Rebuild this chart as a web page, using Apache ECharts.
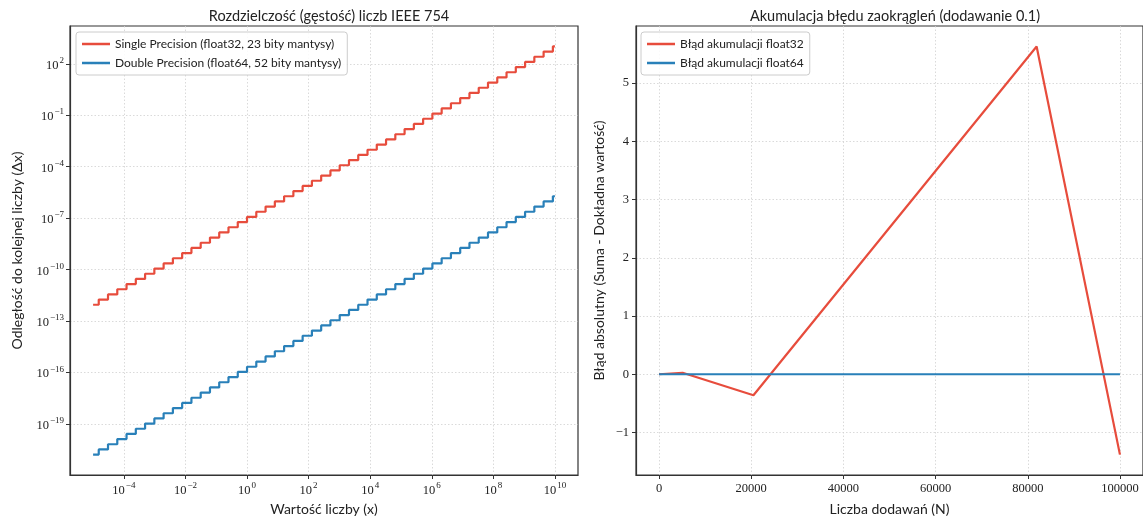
<!DOCTYPE html>
<html>
<head>
<meta charset="utf-8">
<script src="https://cdn.jsdelivr.net/npm/echarts@6/dist/echarts.min.js"></script>
<style>html,body{margin:0;padding:0;background:#fff}#c{width:1143px;height:521px}</style>
</head>
<body>
<div id="c"></div>
<script>
// ---- Left chart data (log2 exponents read from the steps) ----
const xRange = [1e-5, 1e10];
const binadeExp = [-17,-16,-15,-14,-13,-12,-11,-10,-9,-8,-7,-6,-5,-4,-3,-2,-1,0,1,2,3,4,5,6,7,8,9,10,11,12,13,14,15,16,17,18,19,20,21,22,23,24,25,26,27,28,29,30,31,32,33];
const f32SpacingExp = [-40,-39,-38,-37,-36,-35,-34,-33,-32,-31,-30,-29,-28,-27,-26,-25,-24,-23,-22,-21,-20,-19,-18,-17,-16,-15,-14,-13,-12,-11,-10,-9,-8,-7,-6,-5,-4,-3,-2,-1,0,1,2,3,4,5,6,7,8,9,10];
const f64SpacingExp = [-69,-68,-67,-66,-65,-64,-63,-62,-61,-60,-59,-58,-57,-56,-55,-54,-53,-52,-51,-50,-49,-48,-47,-46,-45,-44,-43,-42,-41,-40,-39,-38,-37,-36,-35,-34,-33,-32,-31,-30,-29,-28,-27,-26,-25,-24,-23,-22,-21,-20,-19];
const xTickExps = [-4,-2,0,2,4,6,8,10];
const yTickExps = [-19,-16,-13,-10,-7,-4,-1,2];

// ---- Right chart data ----
const nSamples = [0, 5120, 20480, 81920, 100000];
const err32 = [0, 0.026, -0.36, 5.627, -1.38];
const err64 = [0, 0, 0, 0, 0];
const nTicks = [0, 20000, 40000, 60000, 80000, 100000];
const errTicks = [-1, 0, 1, 2, 3, 4, 5];

const RED = '#e74c3c', BLUE = '#2980b9';
const SANS = 'Lato';
const SERIF = 'Liberation Serif';

function stepData(spacingExp) {
  const pts = [];
  for (let i = 0; i < binadeExp.length; i++) {
    const x = i === 0 ? Math.log10(xRange[0]) : binadeExp[i] * Math.log10(2);
    pts.push([x, spacingExp[i] * Math.log10(2)]);
  }
  pts.push([Math.log10(xRange[1]), spacingExp[spacingExp.length - 1] * Math.log10(2)]);
  return pts;
}

function powLabel(v) {
  const e = Math.round(v);
  return '{b|10}{s|' + (e < 0 ? '\u2212' + (-e) : e) + '}';
}
const powRich = {
  b: {fontFamily: SERIF, fontSize: 12.5, color: '#222', lineHeight: 16, verticalAlign: 'bottom'},
  s: {fontFamily: SERIF, fontSize: 9, color: '#222', lineHeight: 16, verticalAlign: 'top', padding: [0,0,0,1]}
};

const gridLine = {show: true, lineStyle: {color: '#d0d0d0', type: [1.5, 2], width: 0.8}};
const axLine = {show: true, onZero: false, lineStyle: {color: '#333', width: 1.2}};
const axTick = (vals) => ({show: true, length: 4, lineStyle: {color: '#333', width: 1}, customValues: vals});
const nameStyle = {fontFamily: SANS, fontSize: 14, color: '#222'};

const chart = echarts.init(document.getElementById('c'), null, {renderer: 'canvas'});
chart.setOption({
  animation: false,
  backgroundColor: '#fff',
  title: [
    {text: 'Rozdzielczość (gęstość) liczb IEEE 754', left: 324, top: 4, textAlign: 'center',
     textStyle: {fontFamily: SANS, fontSize: 14.5, fontWeight: 'normal', color: '#222'}},
    {text: 'Akumulacja błędu zaokrągleń (dodawanie 0.1)', left: 890, top: 4, textAlign: 'center',
     textStyle: {fontFamily: SANS, fontSize: 14.5, fontWeight: 'normal', color: '#222'}}
  ],
  grid: [
    {left: 70, right: 565, top: 26, bottom: 43, show: true, borderColor: '#333', borderWidth: 1.2, containLabel: false},
    {left: 636, right: -2, top: 26, bottom: 43, show: true, borderColor: '#333', borderWidth: 1.2, containLabel: false}
  ],
  legend: [
    {data: ['Single Precision (float32, 23 bity mantysy)', 'Double Precision (float64, 52 bity mantysy)'],
     left: 76, top: 32, orient: 'vertical', icon: 'rect', itemWidth: 28, itemHeight: 2.5, itemGap: 7,
     padding: [6, 6, 6, 6], borderColor: '#cccccc', borderWidth: 1, borderRadius: 3, backgroundColor: 'rgba(255,255,255,0.85)',
     textStyle: {fontFamily: SANS, fontSize: 12, color: '#222'}},
    {data: ['Błąd akumulacji float32', 'Błąd akumulacji float64'],
     left: 641, top: 32, orient: 'vertical', icon: 'rect', itemWidth: 28, itemHeight: 2.5, itemGap: 7,
     padding: [6, 6, 6, 6], borderColor: '#cccccc', borderWidth: 1, borderRadius: 3, backgroundColor: 'rgba(255,255,255,0.85)',
     textStyle: {fontFamily: SANS, fontSize: 12, color: '#222'}}
  ],
  xAxis: [
    {type: 'value', gridIndex: 0, min: -5.75, max: 10.75,
     name: 'Wartość liczby (x)', nameLocation: 'middle', nameGap: 27, nameTextStyle: nameStyle,
     axisLine: axLine, axisTick: axTick(xTickExps),
     axisLabel: {customValues: xTickExps, formatter: powLabel, rich: powRich, margin: 6},
     splitLine: gridLine},
    {type: 'value', gridIndex: 1, min: -5000, max: 105000,
     name: 'Liczba dodawań (N)', nameLocation: 'middle', nameGap: 27, nameTextStyle: nameStyle,
     axisLine: axLine, axisTick: axTick(nTicks),
     axisLabel: {customValues: nTicks, fontFamily: SERIF, fontSize: 12.5, color: '#222', margin: 7,
                 formatter: v => String(Math.round(v))},
     splitLine: gridLine}
  ],
  yAxis: [
    {type: 'value', gridIndex: 0, min: -21.96, max: 4.20,
     name: 'Odległość do kolejnej liczby (Δx)', nameLocation: 'middle', nameGap: 46, nameTextStyle: nameStyle,
     axisLine: axLine, axisTick: axTick(yTickExps),
     axisLabel: {customValues: yTickExps, formatter: powLabel, rich: powRich, margin: 6},
     splitLine: gridLine},
    {type: 'value', gridIndex: 1, min: -1.73, max: 5.98,
     name: 'Błąd absolutny (Suma - Dokładna wartość)', nameLocation: 'middle', nameGap: 30, nameTextStyle: nameStyle,
     axisLine: axLine, axisTick: axTick(errTicks),
     axisLabel: {customValues: errTicks, fontFamily: SERIF, fontSize: 12.5, color: '#222', margin: 7,
                 formatter: v => (v < 0 ? '\u2212' + (-v) : '' + v)},
     splitLine: gridLine}
  ],
  series: [
    {name: 'Single Precision (float32, 23 bity mantysy)', type: 'line', xAxisIndex: 0, yAxisIndex: 0,
     step: 'end', showSymbol: false, symbol: 'none', data: stepData(f32SpacingExp),
     lineStyle: {color: RED, width: 2.2}, itemStyle: {color: RED}},
    {name: 'Double Precision (float64, 52 bity mantysy)', type: 'line', xAxisIndex: 0, yAxisIndex: 0,
     step: 'end', showSymbol: false, symbol: 'none', data: stepData(f64SpacingExp),
     lineStyle: {color: BLUE, width: 2.2}, itemStyle: {color: BLUE}},
    {name: 'Błąd akumulacji float32', type: 'line', xAxisIndex: 1, yAxisIndex: 1,
     showSymbol: false, symbol: 'none', data: nSamples.map((n, i) => [n, err32[i]]),
     lineStyle: {color: RED, width: 2.2}, itemStyle: {color: RED}},
    {name: 'Błąd akumulacji float64', type: 'line', xAxisIndex: 1, yAxisIndex: 1,
     showSymbol: false, symbol: 'none', data: nSamples.map((n, i) => [n, err64[i]]),
     lineStyle: {color: BLUE, width: 2.2}, itemStyle: {color: BLUE}}
  ]
});
</script>
</body>
</html>
